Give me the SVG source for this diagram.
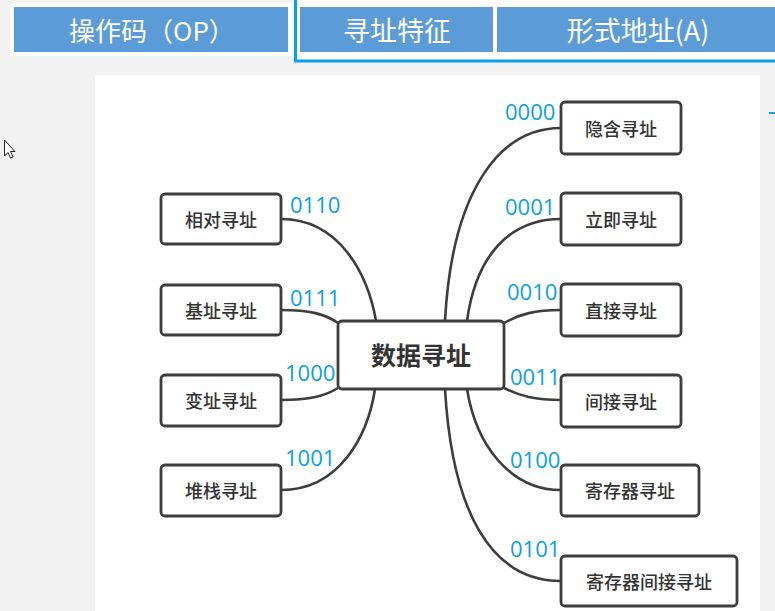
<svg xmlns="http://www.w3.org/2000/svg" width="775" height="611" viewBox="0 0 775 611">
<style>
.hbox{fill:#5b9bd8}
.htxt{font-family:"Noto Sans CJK SC","Noto Sans",sans-serif;font-size:26px;fill:#ffffff;text-anchor:middle;dominant-baseline:central}
.node rect{fill:#ffffff;stroke:#3d3d3d;stroke-width:2.8}
.ntxt{font-family:"Noto Sans CJK SC","Noto Sans",sans-serif;font-size:18px;font-weight:500;fill:#333333;text-anchor:middle;dominant-baseline:central}
.ctxt{font-family:"Noto Sans CJK SC","Noto Sans",sans-serif;font-size:25px;font-weight:bold;fill:#333333;text-anchor:middle;dominant-baseline:central}
.lbl{font-family:"Open Sans","Liberation Sans",sans-serif;font-size:22px;fill:#0aa0e6}
.conn path{fill:none;stroke:#3d3d3d;stroke-width:2.6}
</style>
<rect x="0" y="0" width="775" height="611" fill="#f2f2f2"/>
<g id="header">
<rect x="10" y="3" width="282" height="53" fill="#ffffff"/>
<rect class="hbox" x="14" y="7" width="274" height="45"/>
<text class="htxt" x="152" y="29">操作码（OP）</text>
<rect x="295.5" y="-2" width="485" height="63" fill="#ffffff" stroke="#0aa0e6" stroke-width="3"/>
<rect class="hbox" x="300" y="7" width="193" height="45"/>
<text class="htxt" x="397" y="29" style="font-size:27px">寻址特征</text>
<rect class="hbox" x="497" y="7" width="280" height="45"/>
<text class="htxt" x="638" y="29" style="font-size:27px">形式地址(A)</text>
</g>
<rect x="95" y="75" width="665" height="536" fill="#ffffff"/>
<line x1="769" y1="113" x2="775" y2="113" stroke="#0aa0e6" stroke-width="2"/>
<path d="M4.5,140 L4.5,156 L8,152.5 L10.5,158 L13,157 L10.5,151.5 L15,151.5 Z" fill="#ffffff" stroke="#222" stroke-width="1"/>
<g class="conn" id="connectors">
<path d="M281,219 C340,219 368,275 376,321"/>
<path d="M281,310 C310,310 325,314 338,323"/>
<path d="M281,400 C310,400 325,396 338,388"/>
<path d="M281,490 C340,490 368,435 375,389"/>
<path d="M561,128 C500,128 452,190 445,321"/>
<path d="M561,219 C510,219 476,255 467,321"/>
<path d="M561,310 C535,310 520,314 504,323"/>
<path d="M561,400 C535,400 520,396 504,388"/>
<path d="M561,490 C510,490 476,445 467,389"/>
<path d="M561,581 C490,581 452,510 445,389"/>
</g>
<g id="center" class="node"><rect x="338" y="321" width="166" height="68" rx="4"/><text class="ctxt" x="421" y="354">数据寻址</text></g>
<g id="n0000" class="node"><rect x="561" y="102" width="120" height="52" rx="4"/><text class="ntxt" x="621" y="128">隐含寻址</text></g>
<g id="n0001" class="node"><rect x="561" y="193" width="120" height="52" rx="4"/><text class="ntxt" x="621" y="219">立即寻址</text></g>
<g id="n0010" class="node"><rect x="561" y="284" width="120" height="52" rx="4"/><text class="ntxt" x="621" y="310">直接寻址</text></g>
<g id="n0011" class="node"><rect x="561" y="375" width="120" height="52" rx="4"/><text class="ntxt" x="621" y="401">间接寻址</text></g>
<g id="n0100" class="node"><rect x="561" y="465" width="138" height="51" rx="4"/><text class="ntxt" x="630" y="490">寄存器寻址</text></g>
<g id="n0101" class="node"><rect x="561" y="556" width="176" height="50" rx="4"/><text class="ntxt" x="649" y="581">寄存器间接寻址</text></g>
<g id="n0110" class="node"><rect x="161" y="194" width="120" height="50" rx="4"/><text class="ntxt" x="221" y="219">相对寻址</text></g>
<g id="n0111" class="node"><rect x="161" y="285" width="120" height="50" rx="4"/><text class="ntxt" x="221" y="310">基址寻址</text></g>
<g id="n1000" class="node"><rect x="161" y="375" width="120" height="51" rx="4"/><text class="ntxt" x="221" y="400">变址寻址</text></g>
<g id="n1001" class="node"><rect x="161" y="465" width="120" height="51" rx="4"/><text class="ntxt" x="221" y="490">堆栈寻址</text></g>
<g id="labels">
<text class="lbl" x="505" y="120">0000</text>
<text class="lbl" x="505" y="215">0001</text>
<text class="lbl" x="507" y="300">0010</text>
<text class="lbl" x="510" y="385">0011</text>
<text class="lbl" x="510" y="468">0100</text>
<text class="lbl" x="510" y="557">0101</text>
<text class="lbl" x="290" y="213">0110</text>
<text class="lbl" x="290" y="306">0111</text>
<text class="lbl" x="285" y="381">1000</text>
<text class="lbl" x="285" y="466">1001</text>
</g>
</svg>
